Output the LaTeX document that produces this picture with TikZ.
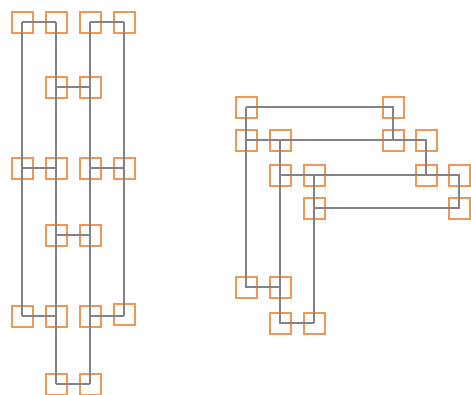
\documentclass[tikz,border=0pt]{standalone}
\usepackage{tikz}

\definecolor{viaorange}{RGB}{242,150,88}
\definecolor{wiregray}{RGB}{130,130,135}

\begin{document}
\begin{tikzpicture}[x=1pt, y=-1pt,
    via/.style={draw=viaorange, line width=2pt, minimum size=21pt, inner sep=0pt},
    wire/.style={draw=wiregray, line width=2.2pt}]
    \useasboundingbox (0,0) rectangle (471,394);

    % left ladder
    \node[via] (a1) at (22,22) {};
    \node[via] (a2) at (56,22) {};
    \node[via] (a3) at (90,22) {};
    \node[via] (a4) at (124,22) {};
    \node[via] (b2) at (56,87) {};
    \node[via] (b3) at (90,87) {};
    \node[via] (c1) at (22,168) {};
    \node[via] (c2) at (56,168) {};
    \node[via] (c3) at (90,168) {};
    \node[via] (c4) at (124,168) {};
    \node[via] (d2) at (56,235) {};
    \node[via] (d3) at (90,235) {};
    \node[via] (e1) at (22,316) {};
    \node[via] (e2) at (56,316) {};
    \node[via] (e3) at (90,316) {};
    \node[via] (e4) at (124,314) {};
    \node[via] (f2) at (56,384) {};
    \node[via] (f3) at (90,384) {};

    \draw[wire] (a1.center) -- (a2.center);
    \draw[wire] (a3.center) -- (a4.center);
    \draw[wire] (b2.center) -- (b3.center);
    \draw[wire] (c1.center) -- (c2.center);
    \draw[wire] (c3.center) -- (c4.center);
    \draw[wire] (d2.center) -- (d3.center);
    \draw[wire] (e1.center) -- (e2.center);
    \draw[wire] (e3.center) -- (e3.center -| e4.center);
    \draw[wire] (f2.center) -- (f3.center);
    \draw[wire] (a1.center) -- (e1.center);
    \draw[wire] (a2.center) -- (f2.center);
    \draw[wire] (a3.center) -- (f3.center);
    \draw[wire] (a4.center) -- (e3.center -| e4.center);

    % right corner
    \node[via] (p1) at (246,107) {};
    \node[via] (p2) at (393,107) {};
    \node[via] (q1) at (246,140) {};
    \node[via] (q2) at (280,140) {};
    \node[via] (q3) at (393,140) {};
    \node[via] (q4) at (426,140) {};
    \node[via] (r1) at (280,175) {};
    \node[via] (r2) at (314,175) {};
    \node[via] (r3) at (426,175) {};
    \node[via] (r4) at (459,175) {};
    \node[via] (s1) at (314,208) {};
    \node[via] (s2) at (459,208) {};
    \node[via] (t1) at (246,287) {};
    \node[via] (t2) at (280,287) {};
    \node[via] (u1) at (280,323) {};
    \node[via] (u2) at (314,323) {};

    \draw[wire] (p1.center) -- (p2.center) -- (q3.center);
    \draw[wire] (q1.center) -- (q4.center) -- (r3.center);
    \draw[wire] (r1.center) -- (r4.center) -- (s2.center) -- (s1.center);
    \draw[wire] (p1.center) -- (t1.center) -- (t2.center);
    \draw[wire] (q2.center) -- (u1.center) -- (u2.center);
    \draw[wire] (r2.center) -- (u2.center);
\end{tikzpicture}
\end{document}
